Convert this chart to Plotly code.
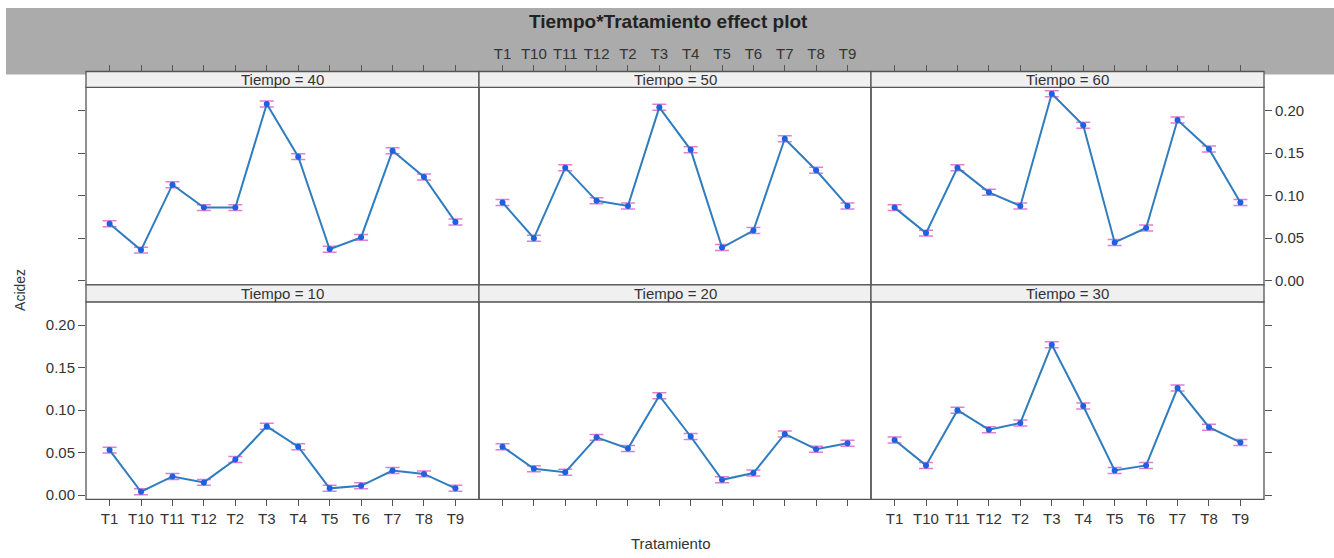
import plotly.graph_objects as go

# Treatment levels (factor order as sorted strings)
tratamientos = ["T1", "T10", "T11", "T12", "T2", "T3", "T4", "T5", "T6", "T7", "T8", "T9"]

# Fitted acidity per treatment, one list per Tiempo level
acidez_t10 = [0.053, 0.004, 0.022, 0.015, 0.042, 0.081, 0.057, 0.008, 0.011, 0.029, 0.025, 0.008]
acidez_t20 = [0.057, 0.031, 0.027, 0.068, 0.055, 0.117, 0.069, 0.018, 0.026, 0.072, 0.054, 0.061]
acidez_t30 = [0.065, 0.035, 0.100, 0.077, 0.085, 0.177, 0.105, 0.029, 0.035, 0.126, 0.080, 0.062]
acidez_t40 = [0.067, 0.036, 0.113, 0.086, 0.086, 0.208, 0.146, 0.037, 0.051, 0.153, 0.122, 0.069]
acidez_t50 = [0.092, 0.050, 0.133, 0.094, 0.088, 0.204, 0.154, 0.039, 0.059, 0.167, 0.130, 0.088]
acidez_t60 = [0.086, 0.056, 0.133, 0.104, 0.088, 0.220, 0.183, 0.045, 0.062, 0.189, 0.155, 0.092]

# Half-width of the confidence bars
ci_half = 0.0035

y_ticks = [0.00, 0.05, 0.10, 0.15, 0.20]

W, H = 1334, 558

def px_x(x):
    return x / W

def px_y(y):
    return 1 - y / H

col_edges = [86, 479, 871, 1264]
top_row = (88, 287)      # plot area, px from top
bot_row = (304, 503)
top_strip = (72, 88)
bot_strip = (287, 304)

panels = [
    # (Tiempo label, values, row, col)
    ("Tiempo = 40", acidez_t40, 0, 0),
    ("Tiempo = 50", acidez_t50, 0, 1),
    ("Tiempo = 60", acidez_t60, 0, 2),
    ("Tiempo = 10", acidez_t10, 1, 0),
    ("Tiempo = 20", acidez_t20, 1, 1),
    ("Tiempo = 30", acidez_t30, 1, 2),
]

LINE_C = "#2F7DBF"
PT_C = "#1F5FE0"
CI_C = "#E07ED6"
AX_C = "#555555"
TXT_C = "#333333"
FONT = "Liberation Sans, Arial, sans-serif"
FS = 15

fig = go.Figure()
layout = {}
shapes = []
annotations = []

# Grey header band behind the title and top axis labels
shapes.append(dict(type="rect", xref="paper", yref="paper",
                   x0=px_x(6), x1=1, y0=px_y(75), y1=px_y(8),
                   fillcolor="#ABABAB", line=dict(width=0), layer="below"))

for i, (label, vals, row, col) in enumerate(panels):
    k = i + 1
    xa = "x" if k == 1 else f"x{k}"
    ya = "y" if k == 1 else f"y{k}"
    xkey = "xaxis" if k == 1 else f"xaxis{k}"
    ykey = "yaxis" if k == 1 else f"yaxis{k}"

    fig.add_trace(go.Scatter(
        x=tratamientos, y=vals, xaxis=xa, yaxis=ya,
        mode="lines+markers",
        line=dict(color=LINE_C, width=2),
        marker=dict(color=PT_C, size=6),
        error_y=dict(type="constant", value=ci_half, color=CI_C,
                     thickness=1.5, width=7),
        showlegend=False, hoverinfo="x+y",
    ))

    x0p, x1p = col_edges[col], col_edges[col + 1]
    ytop, ybot = (top_row if row == 0 else bot_row)
    stop, sbot = (top_strip if row == 0 else bot_strip)

    xaxis = dict(domain=[px_x(x0p), px_x(x1p)], type="category",
                 categoryorder="array", categoryarray=tratamientos,
                 range=[-0.75, 11.75], showgrid=False, zeroline=False,
                 showline=False, ticks="outside", ticklen=6, tickwidth=1,
                 tickcolor=AX_C, tickfont=dict(size=FS, color=TXT_C, family=FONT),
                 fixedrange=True)
    if row == 0:
        xaxis.update(anchor="free", position=px_y(stop), side="top",
                     showticklabels=(col == 1))
    else:
        xaxis.update(anchor=ya, side="bottom", showticklabels=(col != 1))
    layout[xkey] = xaxis

    yaxis = dict(domain=[px_y(ybot), px_y(ytop)], anchor=xa,
                 range=[-0.005, 0.2275], showgrid=False, zeroline=False,
                 showline=False, tickvals=y_ticks, tickformat=".2f",
                 ticklen=7, tickwidth=1, tickcolor=AX_C,
                 tickfont=dict(size=FS, color=TXT_C, family=FONT),
                 fixedrange=True)
    if col == 0:
        yaxis.update(side="left", ticks="outside", showticklabels=(row == 1))
    elif col == 2:
        yaxis.update(side="right", ticks="outside", showticklabels=(row == 0))
    else:
        yaxis.update(ticks="", showticklabels=False)
    layout[ykey] = yaxis

    # panel border
    shapes.append(dict(type="rect", xref="paper", yref="paper",
                       x0=px_x(x0p), x1=px_x(x1p), y0=px_y(ybot), y1=px_y(ytop),
                       line=dict(color=AX_C, width=1.3), fillcolor="rgba(0,0,0,0)"))
    # strip
    shapes.append(dict(type="rect", xref="paper", yref="paper",
                       x0=px_x(x0p), x1=px_x(x1p), y0=px_y(sbot), y1=px_y(stop),
                       line=dict(color=AX_C, width=1.3), fillcolor="#F0F0F0"))
    annotations.append(dict(xref="paper", yref="paper",
                            x=px_x((x0p + x1p) / 2), y=px_y((stop + sbot) / 2),
                            text=label, showarrow=False,
                            font=dict(size=FS, color=TXT_C, family=FONT),
                            xanchor="center", yanchor="middle"))

annotations.append(dict(xref="paper", yref="paper", x=px_x(668), y=px_y(22),
                        text="<b>Tiempo*Tratamiento effect plot</b>", showarrow=False,
                        font=dict(size=19, color="#222222", family=FONT),
                        xanchor="center", yanchor="middle"))
annotations.append(dict(xref="paper", yref="paper", x=px_x(670), y=px_y(547),
                        text="Tratamiento", showarrow=False,
                        font=dict(size=FS, color=TXT_C, family=FONT),
                        xanchor="center", yanchor="middle"))
annotations.append(dict(xref="paper", yref="paper", x=px_x(20), y=px_y(292),
                        text="Acidez", showarrow=False, textangle=-90,
                        font=dict(size=14, color=TXT_C, family=FONT),
                        xanchor="center", yanchor="middle"))

fig.update_layout(**layout)
fig.update_layout(
    width=W, height=H, autosize=False,
    margin=dict(l=0, r=0, t=0, b=0),
    paper_bgcolor="white", plot_bgcolor="white",
    shapes=shapes, annotations=annotations,
    font=dict(family=FONT, color=TXT_C),
)

fig.write_html("out.html", config={"displayModeBar": False})
